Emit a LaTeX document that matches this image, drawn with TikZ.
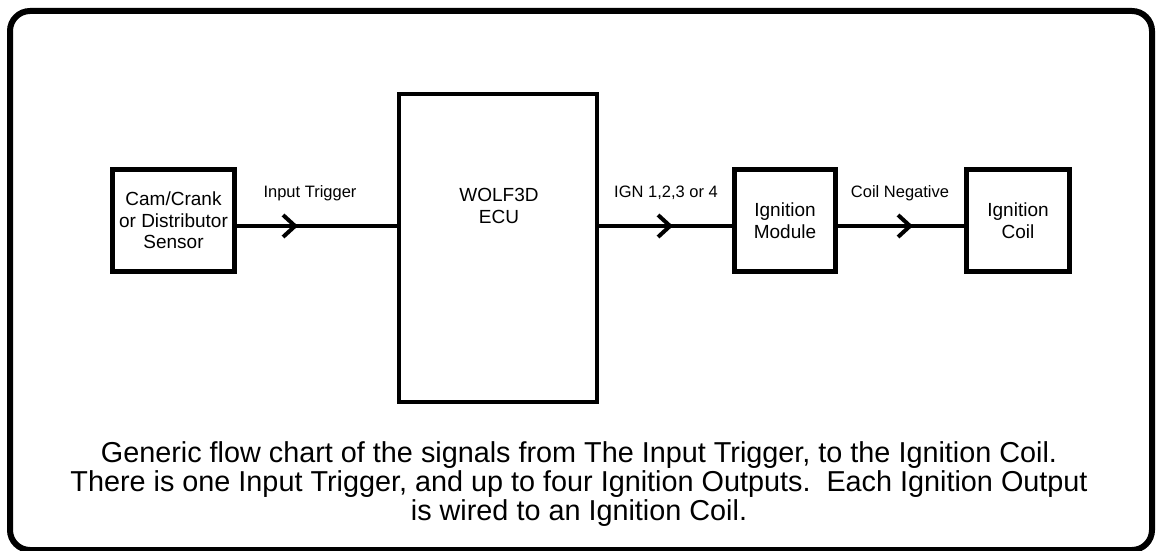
\documentclass[tikz,border=0pt]{standalone}
\usepackage{fontspec}
\setmainfont{Liberation Sans}
\usetikzlibrary{arrows.meta,decorations.markings}
\begin{document}
\begin{tikzpicture}[x=1pt,y=-1pt,
  frame/.style={draw, line width=6pt, rounded corners=20pt},
  blockbox/.style={draw, line width=4.5pt, inner sep=0pt, outer sep=0pt, align=center,
    font=\fontsize{19}{21.6}\selectfont},
  ecubox/.style={draw, line width=4pt, inner sep=0pt, outer sep=0pt,
    minimum width=198pt, minimum height=308pt},
  boxtext/.style={inner sep=0pt, align=center, font=\fontsize{19}{21.6}\selectfont},
  lbl/.style={inner sep=0pt, anchor=base, font=\fontsize{16.5}{19}\selectfont},
  captext/.style={inner sep=0pt, anchor=base, font=\fontsize{28.8}{29}\selectfont},
  wire/.style={line width=4.5pt},
  chevron/.style={postaction={decorate, decoration={markings,
    mark=at position #1 with {\arrow[line width=4pt]{Straight Barb[length=12pt,width=22pt]}}}}}
]
\useasboundingbox (0,0) rectangle (1157,551);
\fill[white] (0,0) rectangle (1157,551);
\draw[frame] (10,11) rectangle (1152,550);

\node[blockbox, minimum width=122pt, minimum height=102pt] (sensor) at (173.5,220.5)
  {Cam/Crank\\or Distributor\\Sensor};
\node[ecubox] (ecu) at (498,248) {};
\node[boxtext] (ecutext) at (499,206) {WOLF3D\\ECU};
\node[blockbox, minimum width=101pt, minimum height=102pt] (module) at (785,220.5)
  {Ignition\\Module};
\node[blockbox, minimum width=103pt, minimum height=102pt] (coil) at (1018,220.5)
  {Ignition\\Coil};

\coordinate (wirey) at (0,226);
\draw[wire, chevron=63.5pt] (sensor.east |- wirey) -- (ecu.west |- wirey);
\draw[wire, chevron=76pt] (ecu.east |- wirey) -- (module.west |- wirey);
\draw[wire, chevron=77.5pt] (module.east |- wirey) -- (coil.west |- wirey);

\node[lbl] (intrig) at (310,197.3) {Input Trigger};
\node[lbl] (ignlbl) at (666,197.3) {IGN 1,2,3 or 4};
\node[lbl] (coilneg) at (900,197.3) {Coil Negative};

\node[captext] (cap1) at (579,462.7) {Generic flow chart of the signals from The Input Trigger, to the Ignition Coil.};
\node[captext] (cap2) at (579,491.7) {There is one Input Trigger, and up to four Ignition Outputs.\ \ Each Ignition Output};
\node[captext] (cap3) at (579,520.4) {is wired to an Ignition Coil.};
\end{tikzpicture}
\end{document}
